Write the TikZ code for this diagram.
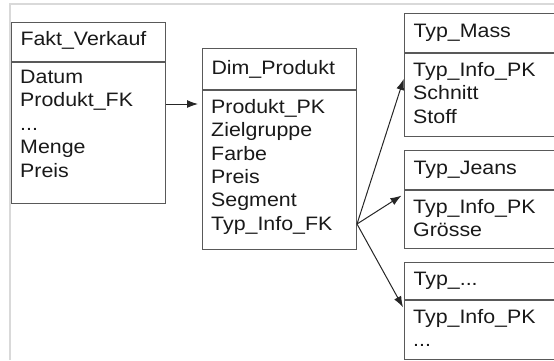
\documentclass[tikz,border=0pt]{standalone}
\usepackage{fontspec}
\setmainfont{Liberation Sans}[FakeStretch=1.1]
\usetikzlibrary{arrows.meta,positioning}

\tikzset{
  tblfont/.style={font=\fontsize{19.5}{23.5}\selectfont, text=black!90},
  tblhead/.style={draw=black!65, line width=1bp, tblfont, anchor=north west,
    text width=136bp, inner xsep=9bp, minimum width=154bp, minimum height=#1, align=left},
  tblhead/.default=39bp,
  tblbody/.style={draw=black!65, line width=1bp, minimum width=154bp, minimum height=#1, inner sep=0pt},
  typwide/.style={text width=158bp, minimum width=176bp},
  fields/.style={tblfont, anchor=north west, inner sep=0pt, align=left},
  conn/.style={draw=black!85, line width=1bp, -{Latex[length=11bp,width=8bp]}},
}

\begin{document}
\begin{tikzpicture}[x=1bp, y=-1bp]
  \useasboundingbox (0,0) rectangle (554,360);
  \draw[black!15, line width=1.5bp] (10,360) -- (10,4) -- (554,4);

  % fact table
  \node[tblhead, text depth=8bp] (fv) at (11,22) {Fakt\_Verkauf};
  \node[tblbody=141bp, below=0pt of fv] (fvb) {};
  \node[fields] (fvf) at ([shift={(9bp,-8bp)}]fvb.north west)
    {Datum\\Produkt\_FK\\...\\Menge\\Preis};

  % product dimension
  \node[tblhead=41bp] (dp) at (202,48) {Dim\_Produkt};
  \node[tblbody=159bp, below=0pt of dp] (dpb) {};
  \node[fields] (dpf) at ([shift={(9bp,-9bp)}]dpb.north west)
    {Produkt\_PK\\Zielgruppe\\Farbe\\Preis\\Segment\\Typ\_Info\_FK};

  % type tables on the right
  \node[tblhead, typwide] (tm) at (404,13) {Typ\_Mass};
  \node[tblbody=83bp, typwide, below=0pt of tm] (tmb) {};
  \node[fields] (tmf) at ([shift={(9bp,-9bp)}]tmb.north west)
    {Typ\_Info\_PK\\Schnitt\\Stoff};

  \node[tblhead, typwide] (tj) at (404,150) {Typ\_Jeans};
  \node[tblbody=58bp, typwide, below=0pt of tj] (tjb) {};
  \node[fields] (tjf) at ([shift={(9bp,-9bp)}]tjb.north west)
    {Typ\_Info\_PK\\Grösse};

  \node[tblhead=37bp, typwide] (tx) at (404,262) {Typ\_...};
  \node[tblbody=59bp, typwide, below=0pt of tx] (txb) {};
  \node[fields] (txf) at ([shift={(9bp,-9bp)}]txb.north west)
    {Typ\_Info\_PK\\...};

  % keys
  \coordinate (prodfk) at ([yshift=-42bp]fvb.north east);
  \coordinate (typfk) at ([yshift=-134bp]dpb.north east);
  \draw[conn, shorten >=4bp] (prodfk) -- (prodfk -| dpb.west);
  \draw[conn, shorten >=1bp] (typfk) -- ([yshift=-25bp]tmb.north west);
  \draw[conn, shorten >=3bp] (typfk) -- ([yshift=-4bp]tjb.north west);
  \draw[conn, shorten >=2bp] (typfk) -- ([yshift=-9bp]txb.north west);
\end{tikzpicture}
\end{document}
